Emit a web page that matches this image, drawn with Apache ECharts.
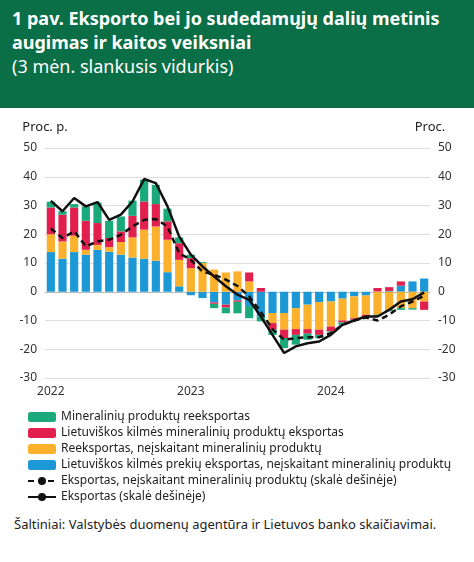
<!DOCTYPE html>
<html>
<head>
<meta charset="utf-8">
<script src="https://cdn.jsdelivr.net/npm/echarts@6/dist/echarts.min.js"></script>
<style>
  body { margin: 0; width: 474px; height: 562px; background: #fff; font-family: "Noto Sans", "DejaVu Sans", sans-serif; overflow: hidden; }
  #head { background: #0a6e46; color: #fff; height: 108px; box-sizing: border-box; padding: 6px 12px; }
  #head .t { font-weight: bold; font-size: 18px; line-height: 24px; }
  #head .s { font-size: 18px; line-height: 24px; }
  #main { width: 474px; height: 408px; }
  #src { font-size: 13px; color: #222; padding: 0 14px; line-height: 16px; }
</style>
</head>
<body>
<div id="head">
  <div class="t">1 pav. Eksporto bei jo sudedamųjų dalių metinis augimas ir kaitos veiksniai</div>
  <div class="s">(3 mėn. slankusis vidurkis)</div>
</div>
<div id="main"></div>
<div id="src">Šaltiniai: Valstybės duomenų agentūra ir Lietuvos banko skaičiavimai.</div>
<script>
'use strict';
// months 2022-01 .. 2024-09
var months = [];
for (var y = 2022; y <= 2024; y++) {
    for (var m = 1; m <= 12; m++) {
        if (y === 2024 && m > 9) break;
        months.push(y + '-' + (m < 10 ? '0' + m : m));
    }
}

var blue = [13.8, 11.5, 13.8, 12.9, 14.6, 13.9, 12.9, 11.9, 11.5, 10.8, 6.8, 1.9,
    -1.2, -2.2, -3.7, -4.5, -3, -5, -8.6, -7.4, -7.4, -5.7, -4.5, -3.6,
    -3.4, -2.4, -1.6, -1.3, 0.1, 0.3, 2.1, 3.6, 4.6];
var orange = [6.2, 6.0, 5.7, 1.7, 1.7, 1.6, 4.4, 7.0, 10.1, 11.9, 11.3, 9.2,
    8.2, 10.0, 7.7, 6.7, 7.1, 3.6, 0, -3.5, -5.8, -7.3, -8.5, -9.6,
    -8.7, -7.6, -7.6, -6.7, -8, -6.3, -5.7, -5.7, -3.4];
var red = [9.3, 9.3, 9.8, 10.1, 7.6, 3.2, 3.7, 7.5, 9.8, 7.8, 6.4, 5.8,
    3.5, 0, -0.5, -1.0, -0.5, 3.1, 1.3, -2.3, -2.9, -2.0, -1.6, -1.8,
    -1.7, -0.7, -0.5, -0.6, 1.2, 1.3, 1.5, 0, -2.9];
var green = [2.0, 1.2, 1.2, 5.0, 7.1, 6.0, 5.2, 5.3, 7.6, 6.7, 4.4, 2.0,
    1.2, 0.3, -1.5, -2.0, -4, -4.2, -1.7, -1.8, -3.5, -3.4, -2.1, -1.1,
    -0.3, -0.8, -0.3, -0.2, -0.5, -0.5, -0.6, -0.5, 0];
var exportTotal = [31.6, 28, 32.6, 29.7, 31.2, 25, 26.8, 31.4, 39.2, 37.8, 29.7, 19.2,
    12.9, 8.8, 5.3, 1.9, -1, -2.8, -8.6, -15, -21.3, -19, -17.9, -17.3,
    -15, -11.5, -10, -8.6, -8.6, -6.3, -3.4, -2.6, -0.2];
var exportNoMin = [22, 18.7, 21, 15.8, 17.5, 18.1, 19.8, 22.7, 25, 25.3, 22.7, 13.4,
    11.1, 7, 5.9, 4.2, 2, -1.6, -7, -13, -16.7, -16.1, -15.8, -15.8,
    -14.4, -11.5, -10, -9, -10, -8, -5.1, -3.4, -1.4];

var names = [
    'Mineralinių produktų reeksportas',
    'Lietuviškos kilmės mineralinių produktų eksportas',
    'Reeksportas, neįskaitant mineralinių produktų',
    'Lietuviškos kilmės prekių eksportas, neįskaitant mineralinių produktų',
    'Eksportas, neįskaitant mineralinių produktų (skalė dešinėje)',
    'Eksportas (skalė dešinėje)'
];

var myChart = echarts.init(document.getElementById('main'));
var yAxisBase = {
    type: 'value', min: -30, max: 50, interval: 10,
    axisLabel: { color: '#333', fontSize: 12 },
    splitLine: { lineStyle: { color: '#ddd' } },
    nameTextStyle: { color: '#222', fontSize: 13 }
};
function bar(name, data, color) {
    return { name: name, type: 'bar', stack: 'a', data: data, barCategoryGap: '30%',
        itemStyle: { color: color } };
}
var option = {
    textStyle: { fontFamily: 'Noto Sans' },
    animation: false,
    grid: { left: 45, right: 44, top: 40, height: 230 },
    legend: {
        orient: 'vertical', left: 22, top: 298, itemGap: 4, itemWidth: 28, itemHeight: 10,
        textStyle: { fontSize: 12, color: '#222' },
        data: names
    },
    xAxis: {
        type: 'category', data: months,
        axisTick: { show: false },
        axisLine: { lineStyle: { color: '#bbb' } },
        axisLabel: {
            color: '#333', fontSize: 12, interval: 0,
            formatter: function(v) { return v.slice(5) === '01' ? v.slice(0, 4) : ''; }
        }
    },
    yAxis: [
        Object.assign({ name: 'Proc. p.', nameGap: 14, nameLocation: 'end',
            nameTextStyle: { color: '#222', fontSize: 13, align: 'right', padding: [0, -14, 0, 0] } }, yAxisBase),
        Object.assign({ name: 'Proc.', nameGap: 14,
            nameTextStyle: { color: '#222', fontSize: 13, align: 'left', padding: [0, 0, 0, -12] } }, yAxisBase)
    ],
    series: [
        bar(names[3], blue, '#1b98d5'),
        bar(names[2], orange, '#fbb12b'),
        bar(names[1], red, '#e1204d'),
        bar(names[0], green, '#1aa97a'),
        { name: names[4], type: 'line', yAxisIndex: 1, data: exportNoMin, symbol: 'none',
            lineStyle: { color: '#111', width: 2.5, type: [6, 4] }, itemStyle: { color: '#111' } },
        { name: names[5], type: 'line', yAxisIndex: 1, data: exportTotal, symbol: 'none',
            lineStyle: { color: '#111', width: 2.5 }, itemStyle: { color: '#111' } }
    ]
};
myChart.setOption(option);
</script>
</body>
</html>
